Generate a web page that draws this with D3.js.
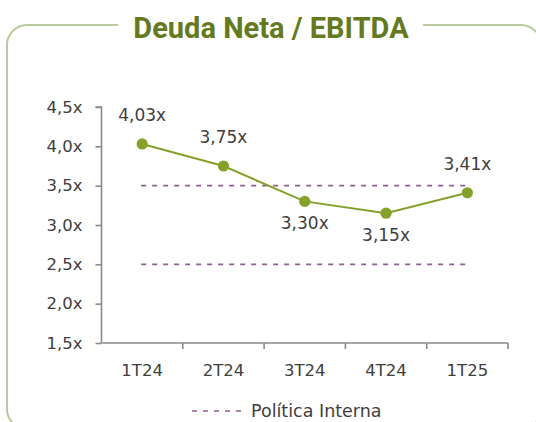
<!DOCTYPE html>
<html>
<head>
<meta charset="utf-8">
<script src="https://cdn.jsdelivr.net/npm/d3@7"></script>
<style>
  body { margin: 0; background: #fff; }
  text { font-family: "DejaVu Sans", Lato, sans-serif; fill: #404040; }
</style>
</head>
<body>
<div id="chart"></div>
<script>
// data
var quarters = ["1T24", "2T24", "3T24", "4T24", "1T25"];
var ratio = [4.03, 3.75, 3.30, 3.15, 3.41];
var policyLimits = [2.5, 3.5];
var yTicks = [1.5, 2.0, 2.5, 3.0, 3.5, 4.0, 4.5];

var svgWidth = 536;
var svgHeight = 422;

var svg = d3.select("#chart")
  .append("svg")
  .attr("width", svgWidth)
  .attr("height", svgHeight);

// frame
svg.append("rect")
  .attr("x", 7)
  .attr("y", 25)
  .attr("width", 534)
  .attr("height", 404)
  .attr("rx", 20)
  .attr("fill", "none")
  .attr("stroke", "#b9c99b")
  .attr("stroke-width", 2);

svg.append("rect")
  .attr("x", 118)
  .attr("y", 18)
  .attr("width", 305)
  .attr("height", 14)
  .attr("fill", "#fff");

svg.append("text")
  .attr("x", 271)
  .attr("y", 37.5)
  .attr("text-anchor", "middle")
  .style("font-family", "Roboto")
  .style("font-weight", "bold")
  .style("font-size", "29px")
  .style("fill", "#647a1e")
  .text("Deuda Neta / EBITDA");

var x = d3.scaleBand()
  .domain(quarters)
  .range([101.5, 508])
  .padding(0);

var y = d3.scaleLinear()
  .domain([1.5, 4.5])
  .range([343, 107]);

var fmt = function(v, digits) {
  return v.toFixed(digits).replace(".", ",") + "x";
};

// axes
var leftAxis = d3.axisLeft(y)
  .tickValues(yTicks)
  .tickSize(6)
  .tickPadding(13)
  .tickFormat(d => fmt(d, 1));

var bottomAxis = d3.axisBottom(x)
  .tickSize(0)
  .tickPadding(21);

var yAxisG = svg.append("g")
  .attr("transform", `translate(${x.range()[0]},0)`)
  .call(leftAxis);

var xAxisG = svg.append("g")
  .attr("transform", `translate(0,${y(1.5)})`)
  .call(bottomAxis);

// x tick marks on band boundaries
xAxisG.selectAll(".bound")
  .data(quarters)
  .enter()
  .append("line")
  .attr("x1", d => x(d) + x.bandwidth())
  .attr("x2", d => x(d) + x.bandwidth())
  .attr("y1", 0)
  .attr("y2", 6);

[yAxisG, xAxisG].forEach(function(g) {
  g.selectAll(".domain").attr("stroke", "#8a8a8a").attr("stroke-width", 1.6);
  g.selectAll("line").attr("stroke", "#8a8a8a").attr("stroke-width", 1.6);
  g.selectAll("text").style("font-size", "16.5px").style("fill", "#404040")
    .attr("font-family", null);
});
yAxisG.select(".domain").attr("d", `M-6,${y(4.5)}H0V${y(1.5)}`);
xAxisG.select(".domain").attr("d", `M0,0H${x.range()[1] - x.range()[0]}`)
  .attr("transform", `translate(${x.range()[0]},0)`);
xAxisG.selectAll(".tick text").attr("dy", "0.71em");

var cx = d => x(d) + x.bandwidth() / 2;

// internal policy lines
svg.selectAll(".policy")
  .data(policyLimits)
  .enter()
  .append("line")
  .attr("x1", cx(quarters[0]) - 1)
  .attr("x2", cx(quarters[quarters.length - 1]) - 2)
  .attr("y1", d => y(d))
  .attr("y2", d => y(d))
  .attr("stroke", "#8e5e92")
  .attr("stroke-width", 1.6)
  .attr("stroke-dasharray", "5,6");

// series line
var pts = quarters.map((q, i) => ({ q: q, v: ratio[i] }));

svg.append("path")
  .datum(pts)
  .attr("fill", "none")
  .attr("stroke", "#84a12a")
  .attr("stroke-width", 2)
  .attr("d", d3.line().x(d => cx(d.q)).y(d => y(d.v)));

svg.selectAll(".pt")
  .data(pts)
  .enter()
  .append("circle")
  .attr("cx", d => cx(d.q))
  .attr("cy", d => y(d.v))
  .attr("r", 5.6)
  .attr("fill", "#84a12a");

// data labels (above / below the point)
var labelBelow = [false, false, true, true, false];
svg.selectAll(".lbl")
  .data(pts)
  .enter()
  .append("text")
  .attr("x", d => cx(d.q))
  .attr("y", (d, i) => y(d.v) + (labelBelow[i] ? 28 : -23))
  .attr("text-anchor", "middle")
  .style("font-size", "17px")
  .text(d => fmt(d.v, 2));

// legend
var legend = svg.append("g").attr("transform", "translate(192,411)");
legend.append("line")
  .attr("x1", 0)
  .attr("x2", 50)
  .attr("stroke", "#8e5e92")
  .attr("stroke-width", 1.6)
  .attr("stroke-dasharray", "5,6");
legend.append("text")
  .attr("x", 59)
  .attr("y", 6)
  .style("font-size", "17.5px")
  .text("Política Interna");
</script>
</body>
</html>
